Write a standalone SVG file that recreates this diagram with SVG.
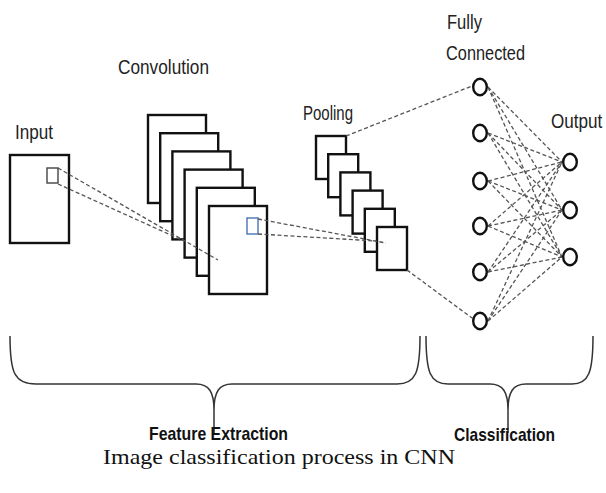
<svg xmlns="http://www.w3.org/2000/svg" width="606" height="493" viewBox="0 0 606 493">
  <style>
    .map { fill: #fff; stroke: #111; stroke-width: 2.4; }
    .win { fill: none; stroke: #444; stroke-width: 1.4; }
    .win-blue { fill: none; stroke: #4a72b4; stroke-width: 1.4; }
    .unit { fill: #fff; stroke: #111; stroke-width: 2.4; }
    .dash { fill: none; stroke: #555; stroke-width: 1.3; stroke-dasharray: 4 2.5; }
    .brace { fill: none; stroke: #333; stroke-width: 1.5; }
    .lbl { font-family: "Liberation Sans", Arial, sans-serif; font-size: 21px; fill: #222; }
    .sec { font-family: "Liberation Sans", Arial, sans-serif; font-size: 19px; font-weight: bold; fill: #111; }
    .cap { font-family: "Liberation Serif", "Times New Roman", serif; font-size: 22px; fill: #111; }
  </style>

  <!-- input image with its receptive window -->
  <g id="input">
    <rect class="map" x="10" y="155" width="59" height="88"/>
    <rect class="win" x="47" y="168" width="11" height="15"/>
    <text class="lbl" x="15" y="139" textLength="38" lengthAdjust="spacingAndGlyphs">Input</text>
  </g>

  <!-- convolution feature maps, back to front -->
  <g id="convolution">
    <rect class="map" x="148" y="115" width="58" height="88"/>
    <rect class="map" x="160.2" y="133.2" width="58" height="88"/>
    <rect class="map" x="172.4" y="151.4" width="58" height="88"/>
    <rect class="map" x="184.6" y="169.6" width="58" height="88"/>
    <rect class="map" x="196.8" y="187.8" width="58" height="88"/>
    <rect class="map" x="209" y="206" width="58" height="88"/>
    <rect class="win-blue" x="247" y="218" width="11" height="16"/>
    <text class="lbl" x="118" y="74" textLength="91" lengthAdjust="spacingAndGlyphs">Convolution</text>
  </g>

  <!-- pooled maps, back to front -->
  <g id="pooling">
    <rect class="map" x="316" y="136" width="30" height="43"/>
    <rect class="map" x="328.2" y="154.2" width="30" height="43"/>
    <rect class="map" x="340.4" y="172.4" width="30" height="43"/>
    <rect class="map" x="352.6" y="190.6" width="30" height="43"/>
    <rect class="map" x="364.8" y="208.8" width="30" height="43"/>
    <rect class="map" x="377" y="227" width="30" height="43"/>
    <text class="lbl" x="303" y="120" textLength="50" lengthAdjust="spacingAndGlyphs">Pooling</text>
  </g>

  <!-- connectors -->
  <g id="connectors">
    <line class="dash" x1="58" y1="168" x2="218" y2="260"/>
    <line class="dash" x1="58" y1="184" x2="184" y2="241"/>
    <line class="dash" x1="258" y1="219" x2="386" y2="243"/>
    <line class="dash" x1="258" y1="234" x2="376" y2="241"/>
    <line class="dash" x1="346" y1="136" x2="472" y2="86"/>
    <line class="dash" x1="407" y1="270" x2="472" y2="318"/>
    <!-- fully connected to output, every pair -->
    <line class="dash" x1="488" y1="87" x2="562" y2="162"/>
    <line class="dash" x1="488" y1="87" x2="562" y2="210"/>
    <line class="dash" x1="488" y1="87" x2="562" y2="257"/>
    <line class="dash" x1="488" y1="133" x2="562" y2="162"/>
    <line class="dash" x1="488" y1="133" x2="562" y2="210"/>
    <line class="dash" x1="488" y1="133" x2="562" y2="257"/>
    <line class="dash" x1="488" y1="181" x2="562" y2="162"/>
    <line class="dash" x1="488" y1="181" x2="562" y2="210"/>
    <line class="dash" x1="488" y1="181" x2="562" y2="257"/>
    <line class="dash" x1="488" y1="226" x2="562" y2="162"/>
    <line class="dash" x1="488" y1="226" x2="562" y2="210"/>
    <line class="dash" x1="488" y1="226" x2="562" y2="257"/>
    <line class="dash" x1="488" y1="272" x2="562" y2="162"/>
    <line class="dash" x1="488" y1="272" x2="562" y2="210"/>
    <line class="dash" x1="488" y1="272" x2="562" y2="257"/>
    <line class="dash" x1="488" y1="321" x2="562" y2="162"/>
    <line class="dash" x1="488" y1="321" x2="562" y2="210"/>
    <line class="dash" x1="488" y1="321" x2="562" y2="257"/>
  </g>

  <!-- fully connected layer -->
  <g id="fully-connected">
    <ellipse class="unit" cx="480" cy="87" rx="6.8" ry="8.2"/>
    <ellipse class="unit" cx="480" cy="133" rx="6.8" ry="8.2"/>
    <ellipse class="unit" cx="480" cy="181" rx="6.8" ry="8.2"/>
    <ellipse class="unit" cx="480" cy="226" rx="6.8" ry="8.2"/>
    <ellipse class="unit" cx="480" cy="272" rx="6.8" ry="8.2"/>
    <ellipse class="unit" cx="480" cy="321" rx="6.8" ry="8.2"/>
    <text class="lbl" x="447" y="29" textLength="35" lengthAdjust="spacingAndGlyphs">Fully</text>
    <text class="lbl" x="446" y="60" textLength="79" lengthAdjust="spacingAndGlyphs">Connected</text>
  </g>

  <!-- output layer -->
  <g id="output">
    <ellipse class="unit" cx="570" cy="162" rx="6.8" ry="8.2"/>
    <ellipse class="unit" cx="570" cy="210" rx="6.8" ry="8.2"/>
    <ellipse class="unit" cx="570" cy="257" rx="6.8" ry="8.2"/>
    <text class="lbl" style="font-size:18px" transform="translate(551,128) scale(0.95,1.15)">Output</text>
  </g>

  <!-- stage braces -->
  <g id="feature-extraction">
    <path class="brace" d="M10,336 C10,372 14,384 36,384 L196,384 C209,384 214,392 214,410 L214,433 M214,410 C214,392 219,384 232,384 L397,384 C416,384 420,372 420,336"/>
    <text class="sec" x="149" y="440" textLength="139" lengthAdjust="spacingAndGlyphs">Feature Extraction</text>
  </g>
  <g id="classification">
    <path class="brace" d="M426,336 C426,372 430,384 448,384 L490,384 C503,384 508,392 508,410 L508,433 M508,410 C508,392 513,384 526,384 L572,384 C589,384 593,372 593,336"/>
    <text class="sec" x="454" y="441" textLength="101" lengthAdjust="spacingAndGlyphs">Classification</text>
  </g>

  <text class="cap" x="103" y="464" textLength="352" lengthAdjust="spacingAndGlyphs">Image classification process in CNN</text>
</svg>
